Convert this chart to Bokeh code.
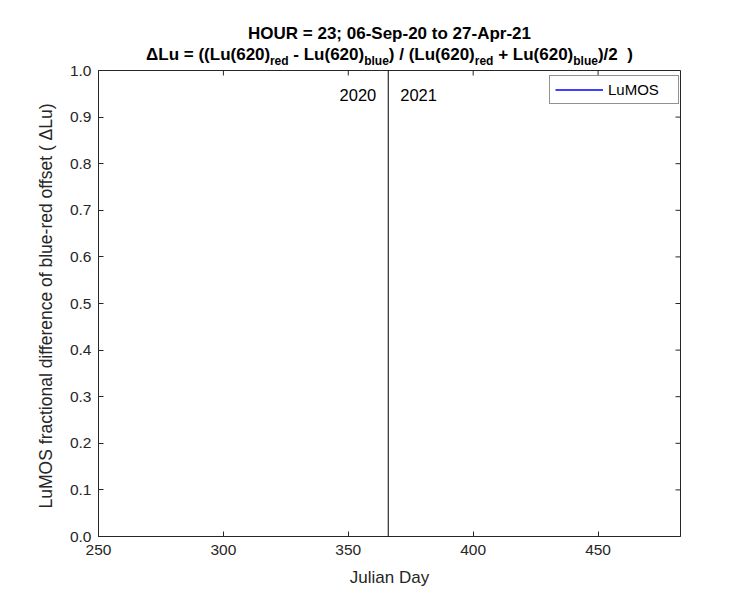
import math
from bokeh.plotting import figure
from bokeh.layouts import column
from bokeh.models import (Range1d, FixedTicker, PrintfTickFormatter,
                          Label, Span, Legend, LegendItem, ColumnDataSource)
from bokeh.embed import file_html
from bokeh.resources import INLINE

# ---------------- data ----------------
julian_day = [float("nan")]      # no valid LuMOS sample for this hour
lumos_offset = [float("nan")]
x_ticks = [250, 300, 350, 400, 450]
y_ticks = [0.0, 0.1, 0.2, 0.3, 0.4, 0.5, 0.6, 0.7, 0.8, 0.9, 1.0]
x_limits = [250, 483]
y_limits = [0.0, 1.0]
year_boundary = 366
year_labels = ["2020", "2021"]
series_name = "LuMOS"
title_line1 = "HOUR = 23; 06-Sep-20 to 27-Apr-21"
title_line2 = [("ΔLu = ((Lu(620)", False), ("red", True), (" - Lu(620)", False),
               ("blue", True), (") / (Lu(620)", False), ("red", True),
               (" + Lu(620)", False), ("blue", True), (")/2", False), ("  )", False)]
x_label = "Julian Day"
y_label = "LuMOS fractional difference of blue-red offset (  ΔLu)"

# ---------------- layout ----------------
FONT = "Liberation Sans"
INK = "#262626"
TITLE_H = 66
OVERLAP = 8
FT = 70
FL, FW, FH = 98, 582, 466
RIGHT = 50

p = figure(frame_width=FW, frame_height=FH, output_backend="svg", toolbar_location=None,
           x_range=Range1d(*x_limits), y_range=Range1d(*y_limits),
           min_border_left=FL, min_border_top=FT - TITLE_H + OVERLAP, min_border_right=RIGHT,
           min_border_bottom=60, background_fill_color="white",
           border_fill_alpha=0)
p.margin = (-OVERLAP, 0, 0, 0)
p.grid.visible = False
p.outline_line_color = INK
p.outline_line_width = 1


def style_axis(ax, ticks):
    ax.ticker = FixedTicker(ticks=ticks)
    ax.minor_tick_line_color = None
    ax.major_tick_in = 5
    ax.major_tick_out = 0
    ax.axis_line_color = INK
    ax.major_tick_line_color = INK
    ax.major_label_text_font = FONT
    ax.major_label_text_color = INK
    ax.major_label_text_font_size = "15.5px"
    ax.axis_label_text_font = FONT
    ax.axis_label_text_color = INK
    ax.axis_label_text_font_size = "17px"
    ax.axis_label_text_font_style = "normal"


xa = p.xaxis[0]
ya = p.yaxis[0]
style_axis(xa, x_ticks)
style_axis(ya, y_ticks)
xa.axis_label = x_label
ya.axis_label = y_label
xa.major_label_standoff = 8
ya.major_label_standoff = 7
xa.axis_label_standoff = 10
ya.axis_label_standoff = 11
ya.axis_label_text_font_size = "17.5px"
ya.formatter = PrintfTickFormatter(format="%.1f")

# mirrored inward ticks on the top and right edges (box on)
p.ray(x=x_ticks, y=[y_limits[1]] * len(x_ticks), length=5, length_units="screen",
      angle=-math.pi / 2, line_color=INK, line_width=1)
p.ray(x=[x_limits[1]] * len(y_ticks), y=y_ticks, length=5, length_units="screen",
      angle=math.pi, line_color=INK, line_width=1)

# year boundary
p.add_layout(Span(location=year_boundary, dimension="height", line_color="black", line_width=1))
YEAR_Y = 1 - 24 / FH
p.add_layout(Label(x=year_boundary, y=YEAR_Y, text=year_labels[0], x_offset=-12,
                   text_align="right", text_baseline="middle", text_font=FONT,
                   text_font_size="16.5px", text_color="black"))
p.add_layout(Label(x=year_boundary, y=YEAR_Y, text=year_labels[1], x_offset=12,
                   text_align="left", text_baseline="middle", text_font=FONT,
                   text_font_size="16.5px", text_color="black"))

# series (no valid samples) with legend
src = ColumnDataSource(data=dict(x=julian_day, y=lumos_offset))
r_line = p.line("x", "y", source=src, line_color="#0000ff", line_width=1.5)
r_dot = p.scatter("x", "y", source=src, marker="circle", size=2,
                  fill_color="#0000ff", line_color="#0000ff")
legend = Legend(items=[LegendItem(label=series_name, renderers=[r_line])],
                location=(451, FH - 34), orientation="vertical",
                label_text_font=FONT, label_text_font_size="15px", label_text_color="black",
                border_line_color=INK, border_line_width=1,
                background_fill_color="white", background_fill_alpha=1,
                padding=5, margin=0, spacing=0, glyph_width=48, glyph_height=17,
                label_standoff=5, label_height=17, label_width=65)
p.add_layout(legend, "center")

# ---------------- title (strip above the axes, same frame columns) ----------------
t = figure(frame_width=FW, frame_height=TITLE_H, output_backend="svg", toolbar_location=None,
           x_range=Range1d(FL, FL + FW), y_range=Range1d(TITLE_H, 0),
           x_axis_location=None, y_axis_location=None,
           min_border_left=FL, min_border_right=RIGHT, min_border_top=0, min_border_bottom=0,
           background_fill_color="white", border_fill_color="white")
t.grid.visible = False
t.outline_line_color = None

W = {' ': .278, '(': .333, ')': .333, 'L': .611, 'u': .611, '6': .556, '2': .556,
     '0': .556, '=': .584, '-': .333, '/': .278, '+': .584, 'Δ': .70, 'r': .389,
     'e': .556, 'd': .611, 'b': .611, 'l': .278}
MAIN, SUB = 17, 12
center_px = FL + FW / 2


def width(s, fs):
    return sum(W.get(c, .556) for c in s) * fs


t.add_layout(Label(x=center_px, y=33, text=title_line1, text_align="center",
                   text_baseline="alphabetic", text_font=FONT, text_font_size=f"{MAIN}px",
                   text_font_style="bold", text_color="black"))

total = sum(width(s, SUB if sub else MAIN) for s, sub in title_line2)
cur = center_px - total / 2
for s, sub in title_line2:
    fs = SUB if sub else MAIN
    lead = len(s) - len(s.lstrip(' '))
    draw_x = cur + lead * W[' '] * fs
    t.add_layout(Label(x=draw_x, y=60 if sub else 54, text=s.strip(' '),
                       text_align="left", text_baseline="alphabetic", text_font=FONT,
                       text_font_size=f"{fs}px", text_font_style="bold", text_color="black"))
    cur += width(s, fs)

layout = column(t, p, spacing=0)
open("out.html", "w").write(file_html(layout, INLINE))
